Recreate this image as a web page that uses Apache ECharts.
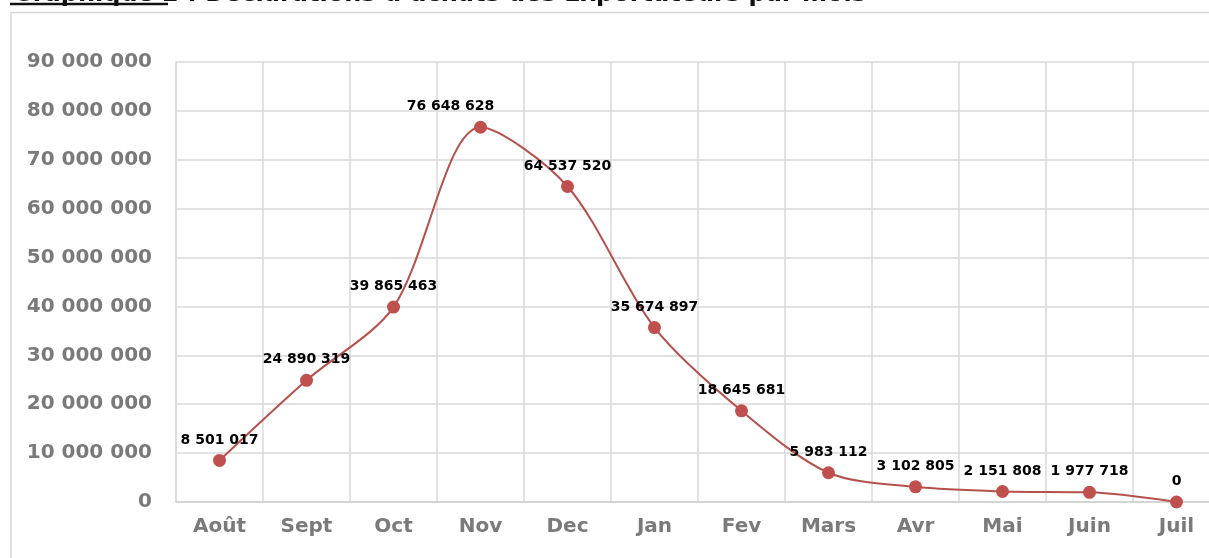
<!DOCTYPE html>
<html><head><meta charset="utf-8">
<script src="https://cdn.jsdelivr.net/npm/echarts@6/dist/echarts.min.js"></script>
<style>html,body{margin:0;padding:0;background:#fff}#c{width:1209px;height:558px}</style>
</head><body><div id="c"></div>
<script>
var categories = ['Août','Sept','Oct','Nov','Dec','Jan','Fev','Mars','Avr','Mai','Juin','Juil'];
var values = [8501017, 24890319, 39865463, 76648628, 64537520, 35674897, 18645681, 5983112, 3102805, 2151808, 1977718, 0];
var titleText = 'Graphique 2 : Déclarations d\u2019achats des Exportateurs par mois';

function fmt(v){ return String(v).replace(/\B(?=(\d{3})+(?!\d))/g,' '); }

var chart = echarts.init(document.getElementById('c'));
chart.setOption({
  animation:false,
  backgroundColor:'#fff',
  title:{text:titleText, left:8, top:-22, textStyle:{fontFamily:'DejaVu Sans', fontWeight:'bold', fontSize:24, color:'#111'}},
  graphic:[
    {type:'rect', shape:{x:11,y:12.5,width:1250,height:600}, style:{fill:'none', stroke:'#d6d6d6', lineWidth:1.5}, z:-1},
    {type:'line', shape:{x1:10,y1:4,x2:168,y2:4}, style:{stroke:'#111', lineWidth:2.5}}
  ],
  grid:{left:176, width:1044, top:62, height:440, outerBoundsMode:'none', containLabel:false},
  xAxis:{type:'category', data:categories, boundaryGap:true,
    axisLine:{lineStyle:{color:'#d0d0d0', width:1.5}}, axisTick:{show:false},
    axisLabel:{color:'#7a7a7a', fontFamily:'DejaVu Sans', fontWeight:'bold', fontSize:20, margin:15},
    splitLine:{show:true, lineStyle:{color:'#d9d9d9', width:1.5}}},
  yAxis:{type:'value', min:0, max:90000000, interval:10000000,
    axisLine:{show:true, lineStyle:{color:'#d9d9d9', width:1.5}}, axisTick:{show:false},
    axisLabel:{color:'#7a7a7a', fontFamily:'DejaVu Sans', fontWeight:'bold', fontSize:20, margin:24, formatter:fmt},
    splitLine:{lineStyle:{color:'#d9d9d9', width:1.5}}},
  series:[{
    type:'line', smooth:0.3,
    data: values.map(function(v,i){ return i===3 ? {value:v, label:{offset:[-30,0]}} : v; }),
    symbol:'circle', symbolSize:13,
    lineStyle:{color:'#b5514c', width:2},
    itemStyle:{color:'#c0504d'},
    label:{show:true, position:'top', distance:7, color:'#000', fontFamily:'DejaVu Sans', fontWeight:'bold', fontSize:14, formatter:function(p){return fmt(p.value);}}
  }]
});
</script></body></html>
